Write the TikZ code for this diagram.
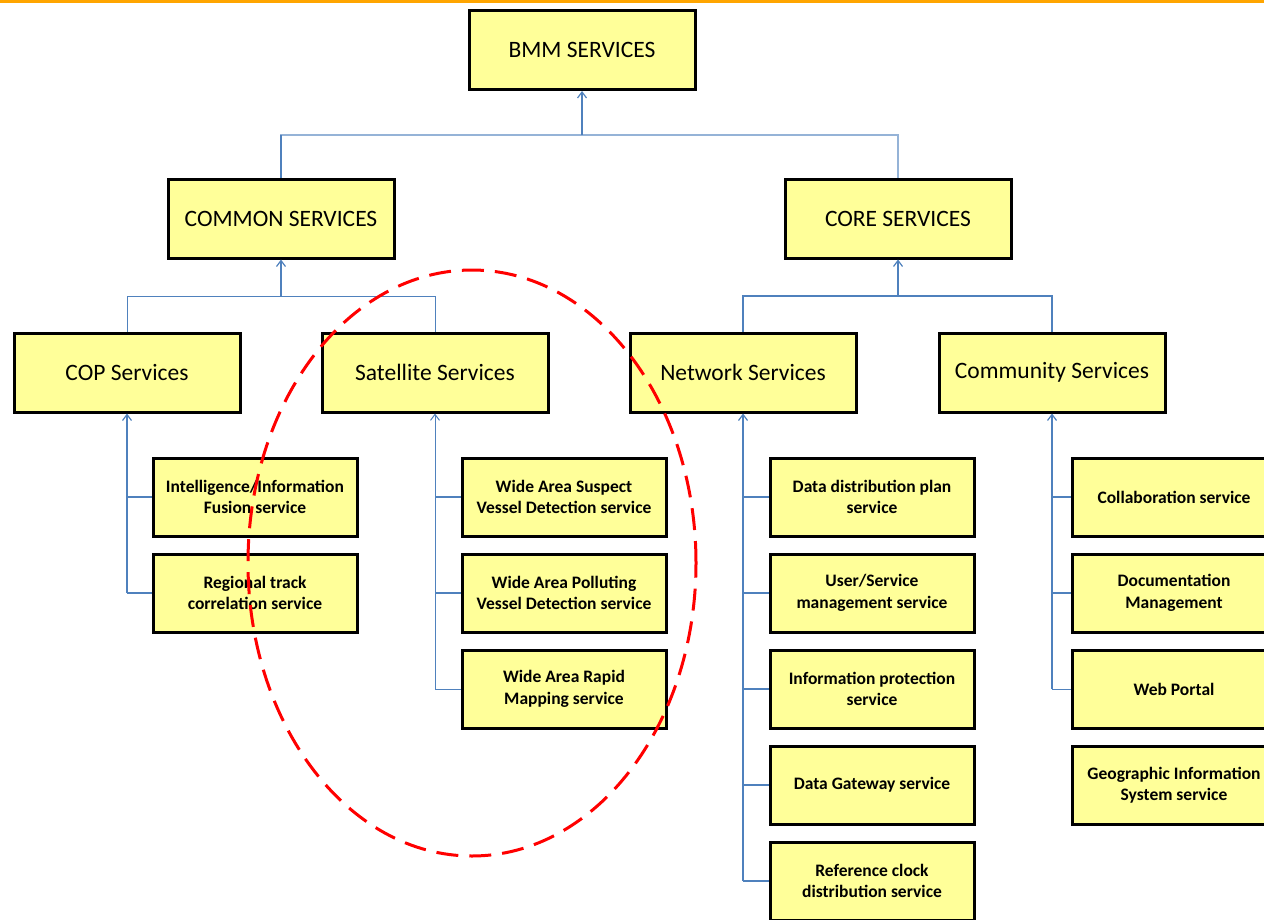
\documentclass[tikz,border=0pt]{standalone}
\usepackage{fontspec}
\setmainfont{Carlito}
\usetikzlibrary{arrows.meta}
\definecolor{boxfill}{RGB}{255,255,153}
\definecolor{linkblue}{RGB}{79,129,189}
\definecolor{lightblue}{RGB}{149,179,215}
\definecolor{topline}{RGB}{255,165,0}
\tikzset{
  mainbox/.style={draw=black, line width=3pt, fill=boxfill, minimum width=226pt, minimum height=79pt, inner sep=0pt, font=\fontsize{23.5}{26}\selectfont},
  subbox/.style={draw=black, line width=3pt, fill=boxfill, minimum width=204pt, minimum height=78pt, inner sep=0pt, align=center, font=\fontsize{17.5}{21.5}\selectfont\bfseries},
  link/.style={draw=linkblue, line width=1.6pt},
  thinlink/.style={draw=linkblue, line width=1pt},
  uparrow/.style={link, -{Straight Barb[length=6pt, width=9pt, line width=1.2pt]}},
  thinuparrow/.style={thinlink, -{Straight Barb[length=6pt, width=9pt, line width=1pt]}},
  ring/.style={draw=red, line width=3pt, dash pattern=on 22pt off 11pt}
}
\begin{document}
\begin{tikzpicture}[x=1pt, y=-1pt]
\useasboundingbox (0,0) rectangle (1264,919);
\clip (0,0) rectangle (1264,919);
\fill[topline] (0,0) rectangle (1264,3);

% top levels
\node[mainbox] (bmm) at (582,50) {BMM SERVICES};
\node[mainbox] (common) at (281,218.5) {COMMON SERVICES};
\node[mainbox] (core) at (898,218.5) {CORE SERVICES};
\node[mainbox] (cop) at (127,372.5) {COP Services};
\node[mainbox] (sat) at (435,372.5) {Satellite Services};
\node[mainbox] (net) at (743,372.5) {Network Services};
\node[mainbox] (comm) at (1052,372.5) {Community Services};

% COP children
\node[subbox] (cop1) at (255,497) {Intelligence/Information\\Fusion service};
\node[subbox] (cop2) at (255,593) {Regional track\\correlation service};
% Satellite children
\node[subbox] (sat1) at (564,497) {Wide Area Suspect\\Vessel Detection service};
\node[subbox] (sat2) at (564,593) {Wide Area Polluting\\Vessel Detection service};
\node[subbox] (sat3) at (564,689) {Wide Area Rapid\\Mapping service};
% Network children
\node[subbox] (net1) at (872,497) {Data distribution plan\\service};
\node[subbox] (net2) at (872,593) {User/Service\\management service};
\node[subbox] (net3) at (872,689) {Information protection\\service};
\node[subbox] (net4) at (872,785) {Data Gateway service};
\node[subbox] (net5) at (872,881) {Reference clock\\distribution service};
% Community children
\node[subbox] (comm1) at (1174,497) {Collaboration service};
\node[subbox] (comm2) at (1174,593) {Documentation\\Management};
\node[subbox] (comm3) at (1174,689) {Web Portal};
\node[subbox] (comm4) at (1174,785) {Geographic Information\\System service};

% level 1 connectors
\coordinate (bar1) at (582,135);
\draw[draw=lightblue, line width=1.6pt] (common.north) -- (common.north |- bar1) -- (core.north |- bar1) -- (core.north);
\draw[link] (common.north) -- (common.north |- bar1);
\draw[uparrow] (bar1) -- (bmm.south);

% level 2 connectors
\coordinate (bar2) at (281,296);
\draw[thinlink] (cop.north) -- (cop.north |- bar2) -- (sat.north |- bar2) -- (sat.north);
\draw[uparrow] (bar2) -- (common.south);
\coordinate (bar3) at (898,296);
\draw[link] (net.north) -- (net.north |- bar3) -- (comm.north |- bar3) -- (comm.north);
\draw[uparrow] (bar3) -- (core.south);

% COP tree
\draw[uparrow] (cop.south |- cop2.west) -- (cop.south);
\draw[link] (cop.south |- cop1.west) -- (cop1.west);
\draw[link] (cop.south |- cop2.west) -- (cop2.west);
% Satellite tree
\draw[thinuparrow] (sat.south |- sat3.west) -- (sat.south);
\draw[link] (sat.south |- sat1.west) -- (sat1.west);
\draw[link] (sat.south |- sat2.west) -- (sat2.west);
\draw[thinlink] (sat.south |- sat3.west) -- (sat3.west);
% Network tree
\draw[uparrow, line width=2.2pt] (net.south |- net5.west) -- (net.south);
\foreach \n in {net1,net2,net3,net4,net5}
  \draw[link] (net.south |- \n.west) -- (\n.west);
% Community tree
\draw[uparrow] (comm.south |- comm3.west) -- (comm.south);
\draw[link, line width=2.4pt] (comm.south |- comm1.west) -- (comm1.west);
\draw[link] (comm.south |- comm2.west) -- (comm2.west);
\draw[thinlink] (comm.south |- comm3.west) -- (comm3.west);

% highlight ring
\draw[ring] (472,563) ellipse [x radius=224pt, y radius=293pt];
\end{tikzpicture}
\end{document}
